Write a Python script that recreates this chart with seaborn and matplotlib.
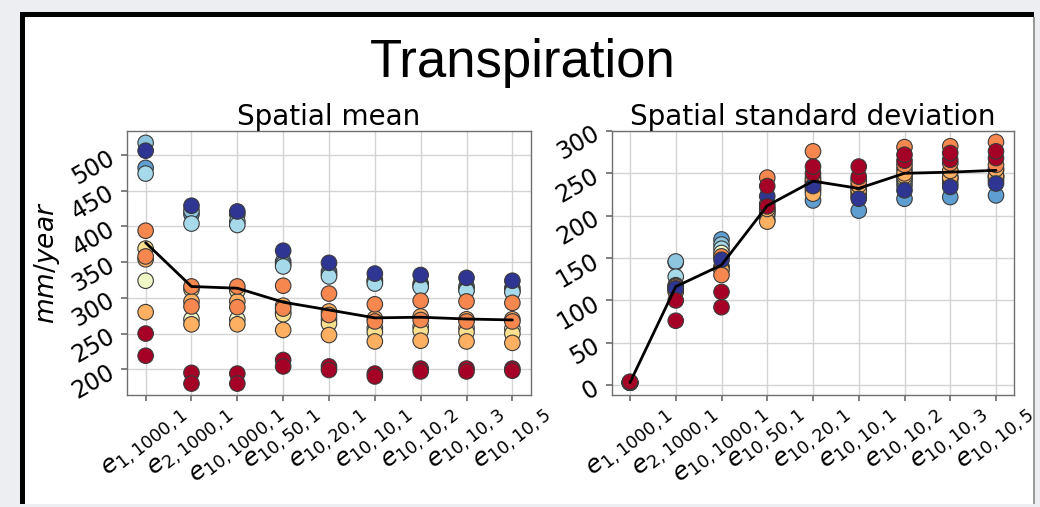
import numpy as np
import pandas as pd
import matplotlib
matplotlib.use("Agg")
import matplotlib.pyplot as plt
import seaborn as sns
from matplotlib.patches import Rectangle

# ---------------- data ----------------
experiments = [r"$e_{1,1000,1}$", r"$e_{2,1000,1}$", r"$e_{10,1000,1}$",
               r"$e_{10,50,1}$", r"$e_{10,20,1}$", r"$e_{10,10,1}$",
               r"$e_{10,10,2}$", r"$e_{10,10,3}$", r"$e_{10,10,5}$"]

# member colours (draw order: first drawn first)
member_names = ["K", "J", "I", "H", "G", "F", "E", "D", "C", "L", "B", "A"]
member_colors = {
    "A": "#a50026", "B": "#a50026",
    "C": "#f5874f", "D": "#f5874f",
    "E": "#fdb062", "F": "#fdb062",
    "G": "#fbe18f", "H": "#eff8c6",
    "I": "#a6d9ea", "J": "#8fc6df",
    "K": "#5f9ed1", "L": "#2e3592",
}

# Spatial mean (mm/year)
mean_A = [219, 180, 180, 204, 199, 190, 197, 197, 198]
mean_B = [250, 195, 194, 213, 204, 194, 201, 201, 201]
mean_C = [394, 316, 316, 317, 306, 291, 296, 295, 293]
mean_D = [358, 288, 287, 285, 276, 267, 269, 267, 267]
mean_E = [354, 295, 295, 289, 281, 271, 274, 270, 270]
mean_F = [280, 263, 263, 255, 248, 239, 240, 239, 237]
mean_G = [369, 312, 310, 277, 264, 252, 254, 252, 250]
mean_H = [324, 270, 270, 280, 270, 258, 260, 258, 257]
mean_I = [474, 404, 402, 344, 330, 320, 315, 310, 308]
mean_J = [517, 422, 407, 347, 333, 323, 317, 312, 310]
mean_K = [482, 417, 417, 351, 337, 325, 320, 316, 314]
mean_L = [506, 429, 421, 366, 349, 334, 332, 328, 324]

# Spatial standard deviation (mm/year)
std_A = [4, 100, 110, 235, 258, 258, 272, 274, 276]
std_B = [3, 76, 92, 211, 250, 246, 265, 266, 268]
std_C = [3, 114, 152, 245, 276, 240, 281, 282, 287]
std_D = [3, 116, 130, 214, 242, 243, 260, 262, 260]
std_E = [3, 117, 136, 208, 245, 236, 250, 253, 255]
std_F = [3, 110, 138, 193, 226, 230, 247, 245, 247]
std_G = [3, 112, 140, 204, 240, 233, 255, 252, 254]
std_H = [3, 118, 156, 208, 238, 228, 244, 246, 246]
std_I = [3, 128, 161, 205, 232, 225, 241, 243, 246]
std_J = [3, 146, 166, 201, 230, 222, 236, 238, 242]
std_K = [3, 145, 172, 195, 218, 206, 220, 222, 224]
std_L = [3, 114, 148, 223, 235, 220, 230, 234, 238]

mean_series = {"A": mean_A, "B": mean_B, "C": mean_C, "D": mean_D, "E": mean_E,
               "F": mean_F, "G": mean_G, "H": mean_H, "I": mean_I, "J": mean_J,
               "K": mean_K, "L": mean_L}
std_series = {"A": std_A, "B": std_B, "C": std_C, "D": std_D, "E": std_E,
              "F": std_F, "G": std_G, "H": std_H, "I": std_I, "J": std_J,
              "K": std_K, "L": std_L}


def long_df(series):
    rows = []
    for m in member_names:
        for i, v in enumerate(series[m]):
            rows.append({"member": m, "exp": i, "value": v})
    return pd.DataFrame(rows)


df_mean = long_df(mean_series)
df_std = long_df(std_series)

# ---------------- style ----------------
sns.set_theme(style="whitegrid")
plt.rcParams["font.family"] = ["DejaVu Sans"]
plt.rcParams.update({
    "text.color": "black",
    "axes.labelcolor": "black",
    "axes.titlecolor": "black",
    "axes.edgecolor": "#707070",
    "axes.linewidth": 1.0,
    "grid.color": "#d4d4d4",
    "grid.linewidth": 1.0,
    "xtick.bottom": True,
    "ytick.left": True,
    "xtick.color": "#707070",
    "ytick.color": "#707070",
    "xtick.labelcolor": "black",
    "ytick.labelcolor": "black",
    "xtick.major.size": 4,
    "ytick.major.size": 4,
})

W, H = 1040, 507
fig = plt.figure(figsize=(W / 100, H / 100), dpi=100)
fig.patch.set_facecolor("#eceef1")


def px_rect(x0, y0, x1, y1, color, z):
    fig.add_artist(Rectangle((x0 / W, 1 - y1 / H), (x1 - x0) / W, (y1 - y0) / H,
                             transform=fig.transFigure, facecolor=color,
                             edgecolor="none", zorder=z))


# screenshot frame
px_rect(25, 17, 1034, 504, "white", -5)
px_rect(20, 12, 25, 504, "black", -4)
px_rect(20, 12, 1034, 17, "black", -4)

ax1 = fig.add_axes([127.3 / W, 1 - 395.3 / H, 403.4 / W, 264.3 / H])
ax2 = fig.add_axes([611.7 / W, 1 - 395.3 / H, 402.6 / W, 264.3 / H])

for ax, df, ylim, ticks, title in [
    (ax1, df_mean, (163.6, 533.6), np.arange(200, 501, 50), "Spatial mean"),
    (ax2, df_std, (-12, 300), np.arange(0, 301, 50), "Spatial standard deviation"),
]:
    ax.set_facecolor("white")
    sns.scatterplot(data=df, x="exp", y="value", hue="member", palette=member_colors,
                    s=125, edgecolor="#3a3a3a", linewidth=0.8, legend=False,
                    ax=ax, zorder=3)
    sns.lineplot(data=df, x="exp", y="value", estimator="mean", errorbar=None,
                 color="black", linewidth=2, ax=ax, zorder=4)
    ax.set_xlim(-0.4, 8.4)
    ax.set_ylim(*ylim)
    ax.set_yticks(ticks)
    ax.set_xticks(range(len(experiments)))
    ax.set_xticklabels(experiments, rotation=38, fontsize=18)
    ax.tick_params(axis="x", pad=1)
    ax.tick_params(axis="y", labelrotation=30, labelsize=17, pad=2)
    ax.set_xlabel("")
    ax.set_ylabel("")
    ax.set_title(title, fontsize=20, pad=3)
    ax.grid(True)

ax1.set_ylabel(r"$mm/year$", fontsize=19, labelpad=4)

fig.text(0.503, 1 - 62.5 / H, "Transpiration", ha="center", va="center",
         fontsize=38, family=["Liberation Sans", "DejaVu Sans"])

# right-edge clip of the screenshot
px_rect(1034, 0, 1040, 507, "#eceef1", 20)
px_rect(1033, 17, 1035, 504, "#9a9a9a", 21)
px_rect(0, 504, 1040, 507, "#eceef1", 20)

fig.savefig("out.png", dpi=100, facecolor=fig.get_facecolor())
